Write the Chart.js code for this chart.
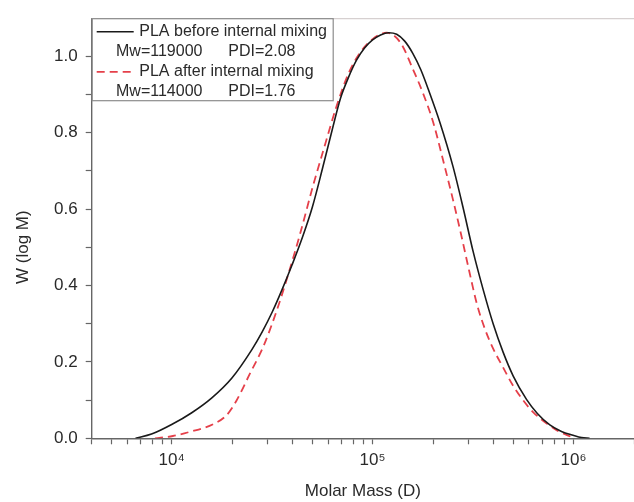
<!DOCTYPE html>
<html>
<head>
<meta charset="utf-8">
<script src="https://cdn.jsdelivr.net/npm/chart.js@4.4.1/dist/chart.umd.min.js"></script>
<style>
  body { margin: 0; background: #fff; }
  #wrap { width: 634px; height: 502px; }
</style>
</head>
<body>
<div id="wrap"><canvas id="gpc" width="634" height="502"></canvas></div>
<script>
// GPC traces: molar mass (D) vs W(log M)
var massBefore = [6610, 7940, 10000, 12590, 15850, 19950, 25120, 28180, 31620, 35480,
                  39810, 44670, 50120, 56230, 63100, 69180, 75860, 83180, 91200, 100000,
                  109600, 120200, 131800, 144500, 158500, 173800, 190500, 216300, 251200, 281800,
                  316200, 354800, 398100, 446700, 501200, 583400, 660700, 762100, 871000, 995400,
                  1096000, 1202000];
var wBefore = [0.000, 0.011, 0.036, 0.067, 0.106, 0.158, 0.233, 0.278, 0.330, 0.390,
               0.455, 0.525, 0.605, 0.705, 0.810, 0.890, 0.945, 0.990, 1.022, 1.043,
               1.056, 1.062, 1.058, 1.040, 1.008, 0.965, 0.910, 0.827, 0.712, 0.605,
               0.490, 0.390, 0.300, 0.225, 0.163, 0.102, 0.065, 0.035, 0.018, 0.008,
               0.002, 0.000];

var massAfter = [8260, 10140, 12330, 16100, 18800, 21040, 24550, 28580, 33270, 37330,
                 43450, 50580, 56750, 66220, 75860, 86500, 100000, 117500, 138000, 159200,
                 177800, 200400, 223900, 251200, 275400, 302000, 331100, 363100, 398100, 446700,
                 501200, 562300, 631000, 734500, 831800, 922600, 1014000];
var wAfter = [0.000, 0.006, 0.017, 0.037, 0.061, 0.099, 0.170, 0.240, 0.333, 0.415,
              0.533, 0.662, 0.752, 0.870, 0.955, 1.009, 1.045, 1.062, 1.035, 0.965,
              0.905, 0.827, 0.730, 0.625, 0.535, 0.440, 0.350, 0.285, 0.235, 0.185,
              0.137, 0.099, 0.068, 0.039, 0.020, 0.009, 0.000];

var seriesLabels = ['PLA before internal mixing', 'PLA after internal mixing'];
var mwValues = ['119000', '114000'];
var pdiValues = ['2.08', '1.76'];

var yTicks = [0.0, 0.1, 0.2, 0.3, 0.4, 0.5, 0.6, 0.7, 0.8, 0.9, 1.0];
var xDecades = [1e3, 1e4, 1e5, 1e6];
var sup = { 3: '\u00B3', 4: '\u2074', 5: '\u2075', 6: '\u2076' };

var xMin = 4000, xMax = 2000000;
var fontFam = '"Liberation Sans", Arial, sans-serif';
var axisCol = '#666666';
var textCol = '#2a2a2a';

function toPoints(xs, ys) {
    var out = [];
    for (var i = 0; i < xs.length; i++) out.push({ x: xs[i], y: ys[i] });
    return out;
}

// frame line on top + the boxed legend inside the plot
var legendBox = {
    id: 'legendBox',
    afterDraw: function(chart) {
        var ctx = chart.ctx, a = chart.chartArea;
        var x0 = a.left, y0 = a.top, w = 241, h = 82;
        ctx.save();
        ctx.strokeStyle = '#d6d0d0';
        ctx.lineWidth = 1.2;
        ctx.beginPath();
        ctx.moveTo(a.left, a.top + 0.5);
        ctx.lineTo(a.right, a.top + 0.5);
        ctx.stroke();

        ctx.fillStyle = '#fff';
        ctx.fillRect(x0 + 1, y0 + 1, w - 1, h - 1);
        ctx.strokeStyle = '#8c8c8c';
        ctx.lineWidth = 1.2;
        ctx.strokeRect(x0 + 0.5, y0 + 0.5, w, h);

        ctx.font = '16px ' + fontFam;
        ctx.fillStyle = textCol;
        ctx.textBaseline = 'middle';
        ctx.textAlign = 'left';
        var rows = [13.6, 53.6];
        chart.data.datasets.forEach(function(ds, i) {
            var ry = y0 + rows[i];
            ctx.strokeStyle = ds.borderColor;
            ctx.lineWidth = ds.borderWidth;
            ctx.setLineDash(ds.borderDash || []);
            ctx.beginPath();
            ctx.moveTo(x0 + 5, ry);
            ctx.lineTo(x0 + 42, ry);
            ctx.stroke();
            ctx.setLineDash([]);
            ctx.fillText(ds.label, x0 + 47.6, ry);
            ctx.fillText('Mw=' + mwValues[i], x0 + 24.3, ry + 19.5);
            ctx.fillText('PDI=' + pdiValues[i], x0 + 136.6, ry + 19.5);
        });
        ctx.restore();
    }
};

var ctx = document.getElementById('gpc').getContext('2d');
var chart = new Chart(ctx, {
    type: 'line',
    data: {
        datasets: [{
            label: seriesLabels[0],
            data: toPoints(massBefore, wBefore),
            borderColor: '#1a1a1a',
            borderWidth: 1.6,
            pointRadius: 0,
            fill: false,
            cubicInterpolationMode: 'monotone'
        }, {
            label: seriesLabels[1],
            data: toPoints(massAfter, wAfter),
            borderColor: '#e5404a',
            borderWidth: 1.8,
            borderDash: [8, 5],
            pointRadius: 0,
            fill: false,
            cubicInterpolationMode: 'monotone'
        }]
    },
    options: {
        responsive: false,
        animation: false,
        devicePixelRatio: 1,
        layout: { autoPadding: false, padding: { left: 0, right: 0, top: 15.7, bottom: 0 } },
        plugins: {
            legend: { display: false },
            tooltip: { enabled: false }
        },
        scales: {
            x: {
                type: 'logarithmic',
                min: xMin,
                max: xMax,
                afterBuildTicks: function(scale) {
                    var t = [];
                    xDecades.forEach(function(d) {
                        for (var m = 1; m <= 9; m++) {
                            var v = d * m;
                            if (v >= xMin && v <= xMax) t.push({ value: v });
                        }
                    });
                    scale.ticks = t;
                },
                afterFit: function(scale) {
                    scale.height = 63.7;
                    // plot runs right up to the canvas edge
                    scale.paddingLeft = 0;
                    scale.paddingRight = 0;
                },
                ticks: {
                    autoSkip: false,
                    maxRotation: 0,
                    padding: 6,
                    color: textCol,
                    font: { family: fontFam, size: 17 },
                    callback: function(v) {
                        for (var i = 0; i < xDecades.length; i++) {
                            if (Math.abs(v - xDecades[i]) < 1e-6) {
                                var e = Math.round(Math.log10(v));
                                return '10' + sup[e];
                            }
                        }
                        return '';
                    }
                },
                grid: {
                    drawOnChartArea: false,
                    tickLength: 6,
                    tickColor: axisCol,
                    tickWidth: 1.2
                },
                border: { color: axisCol, width: 1.4 },
                title: {
                    display: true,
                    text: 'Molar Mass (D)',
                    color: textCol,
                    font: { family: fontFam, size: 17 },
                    padding: { top: 0, bottom: 0 }
                }
            },
            y: {
                min: 0,
                max: 1.1,
                afterBuildTicks: function(scale) {
                    scale.ticks = yTicks.map(function(v) { return { value: v }; });
                },
                afterFit: function(scale) { scale.width = 91.7; },
                ticks: {
                    padding: 8,
                    color: textCol,
                    font: { family: fontFam, size: 17 },
                    callback: function(v) {
                        return Math.round(v * 10) % 2 === 0 ? v.toFixed(1) : '';
                    }
                },
                grid: {
                    drawOnChartArea: false,
                    tickLength: 6,
                    tickColor: axisCol,
                    tickWidth: 1.2
                },
                border: { color: axisCol, width: 1.4 },
                title: {
                    display: true,
                    text: 'W (log M)        ',
                    color: textCol,
                    font: { family: fontFam, size: 17 },
                    padding: { top: 13, bottom: 0 }
                }
            }
        }
    },
    plugins: [legendBox]
});
</script>
</body>
</html>
